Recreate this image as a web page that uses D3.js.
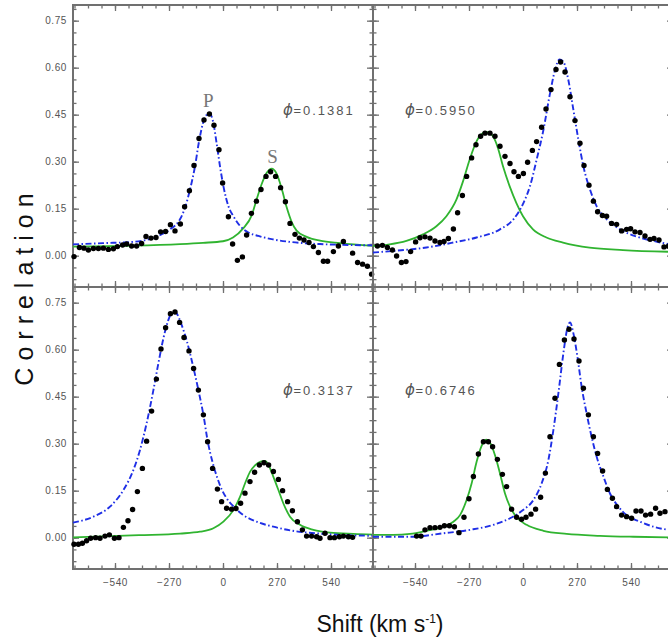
<!DOCTYPE html>
<html>
<head>
<meta charset="utf-8">
<script src="https://cdn.jsdelivr.net/npm/d3@7"></script>
<style>
  body { margin: 0; background: #fff; }
  svg { display: block; }
</style>
</head>
<body>
<svg id="chart" width="668" height="643"></svg>
<script>
// tick labels
const xMajor = [-540, -270, 0, 270, 540];
const yMajor = [0, 0.15, 0.30, 0.45, 0.60, 0.75];
const phases = ["0.1381", "0.5950", "0.3137", "0.6746"];

// top-left, phase 0.1381
const dotsA = [[-745,-0.003],[-718,0.026],[-695,0.024],[-673,0.018],[-648,0.023],[-623,0.023],[-598,0.024],[-573,0.020],[-548,0.022],[-528,0.029],[-502,0.034],[-482,0.037],[-457,0.031],[-432,0.031],[-407,0.039],[-385,0.061],[-360,0.056],[-335,0.058],[-312,0.076],[-287,0.077],[-263,0.099],[-240,0.079],[-213,0.101],[-192,0.156],[-168,0.207],[-145,0.288],[-120,0.374],[-95,0.433],[-68,0.452],[-45,0.416],[-20,0.338],[-2,0.232],[27,0.124],[48,0.037],[72,-0.015],[97,-0.004],[118,0.066],[142,0.135],[167,0.174],[190,0.211],[215,0.253],[238,0.268],[263,0.253],[288,0.217],[312,0.172],[335,0.103],[360,0.068],[382,0.056],[405,0.050],[430,0.042],[452,0.029],[477,0.010],[502,-0.018],[523,-0.018],[552,0.013],[577,0.031],[602,0.045],[648,0.008],[673,-0.022],[698,-0.027],[722,-0.034],[743,-0.059]];
const primaryA = [[-750,0.036],[-600,0.040],[-450,0.044],[-332,0.061],[-265,0.084],[-215,0.116],[-190,0.153],[-165,0.211],[-140,0.285],[-120,0.364],[-95,0.433],[-68,0.455],[-48,0.423],[-32,0.359],[-15,0.285],[2,0.222],[27,0.158],[52,0.126],[85,0.095],[127,0.074],[177,0.063],[250,0.052],[335,0.044],[485,0.037],[750,0.033]];
const secondaryA = [[-750,0.029],[-450,0.032],[-215,0.037],[-100,0.041],[0,0.046],[50,0.058],[102,0.088],[143,0.128],[170,0.183],[193,0.228],[218,0.264],[243,0.278],[268,0.262],[293,0.215],[318,0.155],[343,0.108],[368,0.080],[418,0.060],[485,0.048],[585,0.040],[750,0.031]];

// top-right, phase 0.5950
const dotsB = [[-728,0.031],[-703,0.033],[-678,0.026],[-653,0.018],[-632,-0.001],[-608,-0.022],[-585,-0.019],[-562,0.013],[-537,0.044],[-515,0.057],[-490,0.060],[-465,0.056],[-440,0.047],[-415,0.042],[-395,0.045],[-373,0.055],[-348,0.085],[-327,0.137],[-303,0.192],[-282,0.253],[-257,0.312],[-235,0.354],[-212,0.381],[-190,0.391],[-165,0.391],[-140,0.381],[-115,0.349],[-90,0.317],[-65,0.294],[-45,0.268],[-23,0.253],[2,0.262],[23,0.298],[47,0.336],[68,0.364],[93,0.410],[115,0.468],[140,0.530],[165,0.594],[188,0.618],[210,0.586],[235,0.507],[260,0.431],[285,0.359],[305,0.288],[330,0.225],[352,0.174],[373,0.140],[397,0.128],[418,0.126],[443,0.103],[468,0.100],[493,0.079],[518,0.084],[538,0.086],[560,0.076],[585,0.074],[610,0.063],[635,0.052],[655,0.055],[680,0.050],[705,0.028],[727,0.030]];
const primaryB = [[-750,0.010],[-650,0.015],[-483,0.026],[-348,0.042],[-232,0.058],[-115,0.084],[-48,0.116],[2,0.168],[35,0.222],[68,0.306],[102,0.401],[135,0.518],[160,0.592],[182,0.626],[202,0.619],[227,0.560],[252,0.465],[277,0.370],[302,0.285],[335,0.211],[368,0.158],[418,0.116],[485,0.084],[568,0.061],[652,0.047],[750,0.034]];
const secondaryB = [[-750,0.031],[-667,0.036],[-583,0.047],[-500,0.068],[-433,0.094],[-383,0.126],[-333,0.179],[-300,0.237],[-267,0.306],[-233,0.364],[-200,0.391],[-180,0.394],[-150,0.381],[-125,0.343],[-100,0.285],[-67,0.222],[-33,0.168],[0,0.126],[50,0.084],[117,0.058],[200,0.042],[333,0.026],[500,0.018],[750,0.012]];

// bottom-left, phase 0.3137
const dotsC = [[-745,-0.021],[-723,-0.021],[-703,-0.018],[-682,-0.010],[-662,-0.002],[-637,0.000],[-615,-0.002],[-590,0.005],[-568,0.009],[-543,-0.002],[-520,0.000],[-498,0.033],[-475,0.054],[-452,0.090],[-428,0.147],[-403,0.221],[-382,0.308],[-357,0.404],[-333,0.506],[-310,0.602],[-287,0.670],[-263,0.715],[-240,0.720],[-217,0.687],[-195,0.639],[-170,0.596],[-147,0.540],[-123,0.471],[-98,0.392],[-77,0.306],[-52,0.221],[-28,0.155],[-7,0.115],[18,0.094],[43,0.091],[65,0.093],[88,0.110],[110,0.142],[135,0.179],[158,0.209],[182,0.232],[205,0.239],[228,0.232],[252,0.211],[277,0.186],[298,0.150],[323,0.115],[347,0.086],[372,0.051],[397,0.025],[418,0.005],[443,0.005],[468,0.003],[485,-0.002],[510,0.014],[535,0.000],[557,0.000],[582,0.003],[602,0.005],[627,0.003],[648,0.001]];
const primaryC = [[-750,0.048],[-648,0.067],[-565,0.099],[-498,0.152],[-448,0.216],[-415,0.280],[-382,0.365],[-348,0.471],[-323,0.557],[-298,0.636],[-273,0.695],[-250,0.722],[-235,0.718],[-207,0.679],[-182,0.630],[-147,0.540],[-123,0.471],[-98,0.392],[-77,0.310],[-52,0.240],[-28,0.190],[-5,0.152],[18,0.126],[52,0.100],[102,0.072],[168,0.051],[252,0.035],[368,0.020],[485,0.013],[618,0.008],[750,0.006]];
const secondaryC = [[-750,0.001],[-600,0.004],[-420,0.008],[-215,0.013],[-115,0.019],[-48,0.030],[2,0.051],[52,0.088],[85,0.130],[110,0.173],[135,0.210],[160,0.231],[185,0.242],[210,0.245],[227,0.233],[252,0.194],[277,0.152],[302,0.109],[335,0.067],[385,0.041],[452,0.025],[535,0.016],[652,0.012],[750,0.010]];

// bottom-right, phase 0.6746
const dotsD = [[-532,0.005],[-510,0.005],[-490,0.025],[-465,0.032],[-440,0.032],[-415,0.033],[-393,0.038],[-368,0.038],[-343,0.035],[-320,0.016],[-295,0.065],[-270,0.124],[-248,0.195],[-223,0.267],[-198,0.306],[-173,0.306],[-152,0.290],[-128,0.250],[-103,0.202],[-82,0.163],[-57,0.091],[-32,0.065],[-7,0.059],[15,0.065],[40,0.075],[63,0.091],[88,0.129],[112,0.206],[135,0.322],[160,0.445],[182,0.553],[207,0.631],[230,0.665],[255,0.634],[280,0.564],[302,0.477],[327,0.392],[352,0.322],[373,0.269],[398,0.213],[422,0.154],[447,0.126],[468,0.099],[493,0.072],[518,0.067],[543,0.062],[565,0.085],[590,0.085],[613,0.072],[638,0.075],[663,0.094],[685,0.078],[710,0.083]];
const primaryD = [[-750,0.003],[-565,0.003],[-398,0.014],[-265,0.025],[-148,0.041],[-65,0.062],[2,0.089],[52,0.120],[93,0.173],[127,0.248],[152,0.344],[177,0.461],[202,0.589],[222,0.669],[235,0.687],[252,0.652],[272,0.578],[293,0.482],[318,0.397],[343,0.322],[368,0.259],[402,0.195],[435,0.141],[477,0.099],[518,0.072],[585,0.051],[652,0.035],[750,0.023]];
const secondaryD = [[-750,0.009],[-648,0.009],[-565,0.012],[-482,0.022],[-398,0.035],[-348,0.051],[-315,0.072],[-282,0.120],[-257,0.173],[-232,0.242],[-207,0.293],[-185,0.313],[-162,0.300],[-140,0.263],[-115,0.205],[-90,0.141],[-65,0.099],[-32,0.065],[18,0.041],[102,0.022],[218,0.012],[385,0.006],[552,0.003],[750,0.001]];

const panels = [
  { col: 0, row: 0, phase: phases[0], dots: dotsA, p: primaryA, s: secondaryA, lx: 300 },
  { col: 1, row: 0, phase: phases[1], dots: dotsB, p: primaryB, s: secondaryB, lx: -590 },
  { col: 0, row: 1, phase: phases[2], dots: dotsC, p: primaryC, s: secondaryC, lx: 300 },
  { col: 1, row: 1, phase: phases[3], dots: dotsD, p: primaryD, s: secondaryD, lx: -590 }
];

const marginLeft = 73, marginTop = 5, W = 300, H = 282;
const axisColor = "#707070";
const sans = "'Liberation Sans', Arial, sans-serif";

const x = d3.scaleLinear().domain([-750, 750]).range([0, W]);
const y = d3.scaleLinear().domain([-0.1, 0.8]).range([H, 0]);
const xMinor = d3.range(-742.5, 750, 67.5);
const yMinor = d3.range(-0.075, 0.8, 0.0375);

const svg = d3.select("#chart");

const line = d3.line()
  .x(d => x(d[0]))
  .y(d => y(d[1]))
  .curve(d3.curveMonotoneX);

function styleAxis(g) {
  g.select(".domain").remove();
  g.selectAll("line").attr("stroke", axisColor).attr("stroke-width", 1.3);
  g.selectAll("text")
    .attr("fill", "#555")
    .style("font-family", sans)
    .style("font-size", "10px")
    .style("letter-spacing", "0.6px");
}

panels.forEach(pn => {
  const g = svg.append("g")
    .attr("transform", `translate(${marginLeft + pn.col * W},${marginTop + pn.row * H})`);

  // minor ticks
  const sides = [
    [d3.axisBottom(x), `translate(0,${H})`, xMinor],
    [d3.axisTop(x), "translate(0,0)", xMinor],
    [d3.axisLeft(y), "translate(0,0)", yMinor],
    [d3.axisRight(y), `translate(${W},0)`, yMinor]
  ];
  sides.forEach(([ax, tr, vals]) => {
    g.append("g").attr("transform", tr)
      .call(ax.tickValues(vals).tickSize(-3.5).tickFormat(""))
      .call(styleAxis);
  });

  // major ticks
  g.append("g").attr("transform", `translate(0,${H})`)
    .call(d3.axisBottom(x).tickValues(xMajor).tickSize(-6).tickPadding(10)
      .tickFormat(pn.row === 1 ? d3.format("d") : ""))
    .call(styleAxis);
  g.append("g")
    .call(d3.axisTop(x).tickValues(xMajor).tickSize(-6).tickFormat(""))
    .call(styleAxis);
  g.append("g")
    .call(d3.axisLeft(y).tickValues(yMajor).tickSize(-6).tickPadding(6)
      .tickFormat(pn.col === 0 ? d3.format(".2f") : ""))
    .call(styleAxis);
  g.append("g").attr("transform", `translate(${W},0)`)
    .call(d3.axisRight(y).tickValues(yMajor).tickSize(-6).tickFormat(""))
    .call(styleAxis);

  // frame
  g.append("rect")
    .attr("width", W).attr("height", H)
    .attr("fill", "none")
    .attr("stroke", axisColor)
    .attr("stroke-width", 2);

  // fitted profiles
  g.append("path").datum(pn.s)
    .attr("d", line)
    .attr("fill", "none")
    .attr("stroke", "#30b430")
    .attr("stroke-width", 1.8);
  g.append("path").datum(pn.p)
    .attr("d", line)
    .attr("fill", "none")
    .attr("stroke", "#1f2fe6")
    .attr("stroke-width", 1.9)
    .attr("stroke-dasharray", "6,2.5,1.5,2.5");

  // observed correlation
  g.selectAll("circle").data(pn.dots).join("circle")
    .attr("cx", d => x(d[0]))
    .attr("cy", d => y(d[1]))
    .attr("r", 2.7)
    .attr("fill", "#000");

  // phase label
  const t = g.append("text")
    .attr("x", x(pn.lx))
    .attr("y", y(pn.row === 0 ? 0.45 : 0.456))
    .attr("fill", "#555")
    .style("font-family", sans)
    .style("font-size", "13px")
    .style("letter-spacing", "2px");
  t.append("tspan")
    .style("font-family", "'DejaVu Sans', sans-serif")
    .style("font-style", "italic")
    .style("font-size", "15px")
    .style("letter-spacing", "0.5px")
    .text("ϕ");
  t.append("tspan").text("=" + pn.phase);
});

// P and S component labels in the first panel
const g0 = svg.append("g").attr("transform", `translate(${marginLeft},${marginTop})`);
g0.selectAll("text.comp")
  .data([["P", -73, 0.474], ["S", 248, 0.296]])
  .join("text")
  .attr("class", "comp")
  .attr("x", d => x(d[1]))
  .attr("y", d => y(d[2]))
  .attr("text-anchor", "middle")
  .attr("fill", "#777")
  .style("font-family", "'Liberation Serif', 'DejaVu Serif', serif")
  .style("font-size", "19px")
  .text(d => d[0]);

// axis titles
svg.append("text")
  .attr("transform", "translate(33,286) rotate(-90)")
  .attr("text-anchor", "middle")
  .attr("fill", "#111")
  .style("font-family", sans)
  .style("font-size", "25px")
  .style("letter-spacing", "7px")
  .text("Correlation");

const xt = svg.append("text")
  .attr("x", 380)
  .attr("y", 632)
  .attr("text-anchor", "middle")
  .attr("fill", "#111")
  .style("font-family", sans)
  .style("font-size", "23px");
xt.append("tspan").text("Shift (km s");
xt.append("tspan").attr("dy", -9).style("font-size", "12px").text("-1");
xt.append("tspan").attr("dy", 9).text(")");
</script>
</body>
</html>
